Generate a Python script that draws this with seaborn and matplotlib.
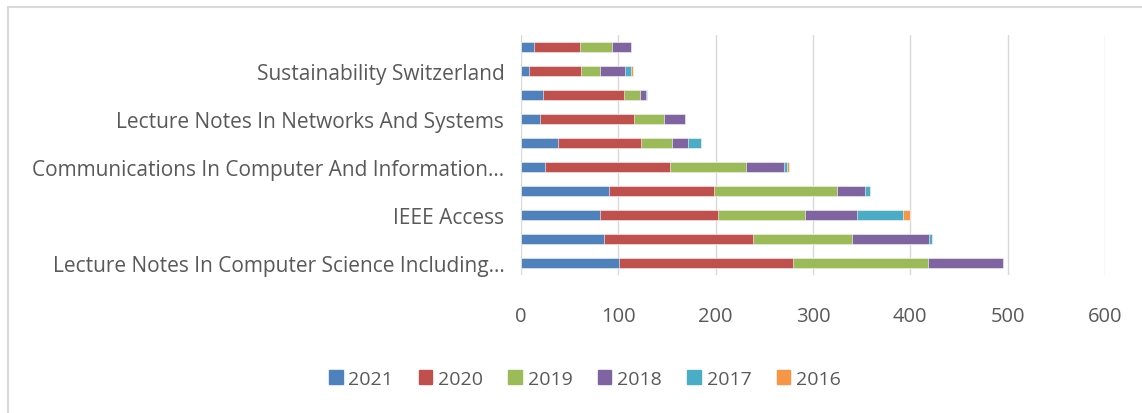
import numpy as np
import pandas as pd
import matplotlib.pyplot as plt
import seaborn as sns
from matplotlib.patches import Rectangle

# journals, top to bottom as drawn; only every other one is labelled in the original
journals = [
    "Journal A",
    "Sustainability Switzerland",
    "Journal B",
    "Lecture Notes In Networks And Systems",
    "Journal C",
    "Communications In Computer And Information…",
    "Journal D",
    "IEEE Access",
    "Journal E",
    "Lecture Notes In Computer Science Including…",
]
shown = [False, True, False, True, False, True, False, True, False, True]

years = ["2021", "2020", "2019", "2018", "2017", "2016"]
y2021 = [13, 8, 23, 20, 38, 25, 90, 81, 85, 101]
y2020 = [48, 54, 83, 96, 85, 128, 108, 121, 153, 178]
y2019 = [32, 19, 16, 31, 32, 78, 127, 90, 102, 139]
y2018 = [20, 26, 6, 22, 17, 39, 28, 53, 79, 77]
y2017 = [0, 6, 1, 0, 13, 3, 6, 47, 3, 0]
y2016 = [0, 2, 0, 0, 0, 2, 0, 8, 0, 0]

colors = ["#4F81BD", "#C0504D", "#9BBB59", "#8064A2", "#4BACC6", "#F79646"]

df = pd.DataFrame({"Journal": journals})
for yr, vals in zip(years, [y2021, y2020, y2019, y2018, y2017, y2016]):
    df[yr] = vals
# running totals so each layer can be drawn behind the previous one
cum = df[years].cumsum(axis=1)

sns.set_style("white")
plt.rcParams["font.family"] = ["Open Sans", "DejaVu Sans"]

fig = plt.figure(figsize=(11.42, 4.14), dpi=100)
ax = fig.add_axes([521 / 1142, 1 - 276 / 414, 584 / 1142, 240 / 414])

for yr, col in reversed(list(zip(years, colors))):
    sns.barplot(
        x=cum[yr], y=df["Journal"], orient="h", color=col,
        width=0.4, saturation=1, edgecolor="white", linewidth=0.4, ax=ax,
    )

ax.set_xlim(0, 600)
ax.set_xticks(range(0, 601, 100))
ax.set_ylim(9.5, -0.5)
ax.set_yticks(range(len(journals)))
ax.set_yticklabels([j if s else "" for j, s in zip(journals, shown)])
ax.set_xlabel("")
ax.set_ylabel("")
ax.grid(axis="x", color="#D9D9D9", linewidth=1)
ax.set_axisbelow(True)
sns.despine(ax=ax, left=True, bottom=True)
ax.tick_params(axis="both", length=0, colors="#595959")
ax.tick_params(axis="x", pad=22, labelsize=14.5)
ax.tick_params(axis="y", pad=12, labelsize=15)

handles = [Rectangle((0, 0), 1, 1, color=c) for c in colors]
fig.legend(
    handles, years, loc="center", bbox_to_anchor=(585 / 1142, 1 - 380 / 414),
    ncol=6, frameon=False, fontsize=14, handlelength=0.7, handleheight=0.7,
    handletextpad=0.3, columnspacing=1.3, labelcolor="#595959",
)

# light outer frame as in the original chart area
fig.patches.append(Rectangle((8 / 1142, -0.1), 1.2, 1.1 - 8 / 414,
                             transform=fig.transFigure, fill=False,
                             edgecolor="#D9D9D9", linewidth=1.5))

fig.savefig("out.png", dpi=100)
